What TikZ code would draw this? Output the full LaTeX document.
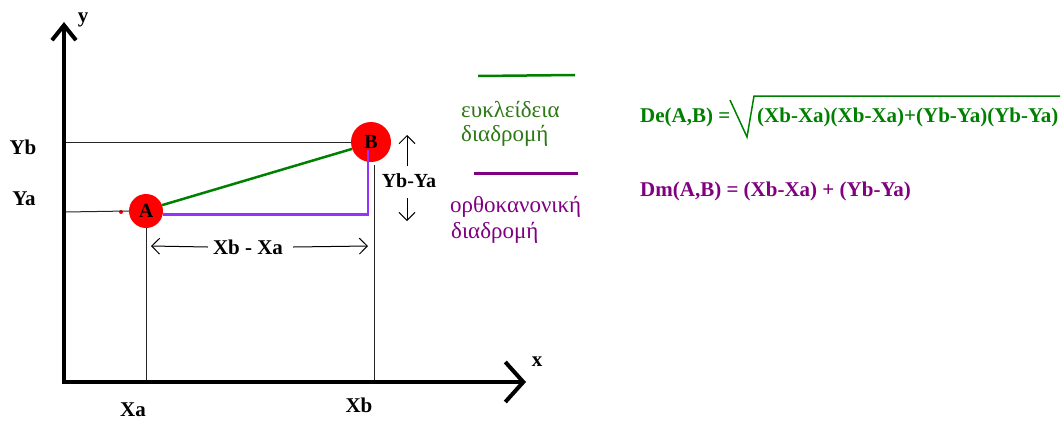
\documentclass[tikz,border=0pt]{standalone}
\usepackage{fontspec}
\setmainfont{Liberation Serif}
\usetikzlibrary{arrows.meta,calc}
\definecolor{eucl}{RGB}{0,128,0}
\definecolor{euclt}{RGB}{45,120,20}
\definecolor{orth}{RGB}{128,0,128}
\definecolor{orthline}{RGB}{150,50,255}
\tikzset{
  lbl/.style={font=\fontsize{21}{24}\selectfont\bfseries, inner sep=0pt},
  greek/.style={font=\fontsize{23}{27}\selectfont, inner sep=0pt, anchor=west},
  ptnode/.style={circle, fill=red, inner sep=0pt, font=\fontsize{20}{24}\selectfont\bfseries},
  axis/.style={line width=4pt, line join=miter},
  guide/.style={line width=1pt, black!85},
  dim/.style={line width=1pt, -{Straight Barb[length=8pt,width=16pt]}},
  pathline/.style={line width=2.5pt},
}
\begin{document}
\begin{tikzpicture}[x=1pt,y=-1pt]
\useasboundingbox (0,0) rectangle (1063,421);
% points
\node[ptnode, minimum size=34pt] (A) at (146,211) {A};
\node[ptnode, minimum size=40pt] (B) at (371,142) {B};
\fill[red] (121,212) circle (2pt);
% guides
\coordinate (O) at (64,382);
\coordinate (Yb0) at (64,142);
\coordinate (Ya0) at (64,212);
\coordinate (XbTop) at (374,165);
\draw[guide] (Yb0) -- (B.west);
\draw[guide] (Ya0) -- (A.west);
\draw[guide] (A.south) -- (A.south |- O);
\draw[guide] (XbTop) -- (XbTop |- O);
% axes
\coordinate (Ytip) at (64,22);
\coordinate (Xtip) at (526,382);
\draw[axis, arrows={Straight Barb[length=15pt,width=24pt]-Straight Barb[length=18pt,width=40pt]}] (Ytip) -- (O) -- (Xtip);
\node[lbl] (ylab) at (83,20) {y};
\node[lbl] (xlab) at (537,362) {x};
% paths
\draw[eucl, pathline] (A.20) -- (B.200);
\draw[orthline, pathline] (A.-12) -| ($(B.center)+(-3,8)$);
% axis labels
\node[lbl] (yb) at (23,147) {Yb};
\node[lbl] (ya) at (24,199) {Ya};
\node[lbl] (xa) at (133,410) {Xa};
\node[lbl] (xb) at (359,405) {Xb};
% dimensions
\node[lbl] (dx) at (248,247) {Xb - Xa};
\coordinate (dxl) at (151,246);
\coordinate (dxr) at (368,246);
\draw[dim] ([xshift=-5pt]dx.west) -- (dxl);
\draw[dim] ([xshift=10pt]dx.east) -- (dxr);
\node[lbl, font=\fontsize{20}{24}\selectfont\bfseries] (dy) at (409,181) {Yb-Ya};
\coordinate (dyu) at (407,166);
\coordinate (dyt) at (407,135);
\coordinate (dyd) at (407,198);
\coordinate (dyb) at (407,221);
\draw[dim] (dyu) -- (dyt);
\draw[dim] (dyd) -- (dyb);
% legend
\coordinate (g1) at (478,76);
\coordinate (g2) at (575,75);
\draw[eucl, pathline] (g1) -- (g2);
\node[greek, text=euclt] (gt1) at (461,109) {ευκλείδεια};
\node[greek, text=euclt] (gt2) at (461,136) {διαδρομή};
\coordinate (p1) at (474,173);
\coordinate (p2) at (578,173);
\draw[orth, line width=3pt] (p1) -- (p2);
\node[greek, text=orth] (pt1) at (450,207) {ορθοκανονική};
\node[greek, text=orth] (pt2) at (451,233) {διαδρομή};
% formulas
\node[lbl, text=eucl, anchor=west] (de) at (640,117) {De(A,B) =};
\node[lbl, text=eucl, anchor=west] (rad) at (757,117) {(Xb-Xa)(Xb-Xa)+(Yb-Ya)(Yb-Ya)};
\coordinate (r1) at (730,100);
\coordinate (r2) at (747,137);
\coordinate (r3) at (754,96);
\coordinate (r4) at (1060,96);
\draw[eucl, line width=1.5pt] (r1) -- (r2) -- (r3) -- (r4);
\node[lbl, text=orth, anchor=west] (dm) at (640,191) {Dm(A,B) = (Xb-Xa) + (Yb-Ya)};
\end{tikzpicture}
\end{document}
